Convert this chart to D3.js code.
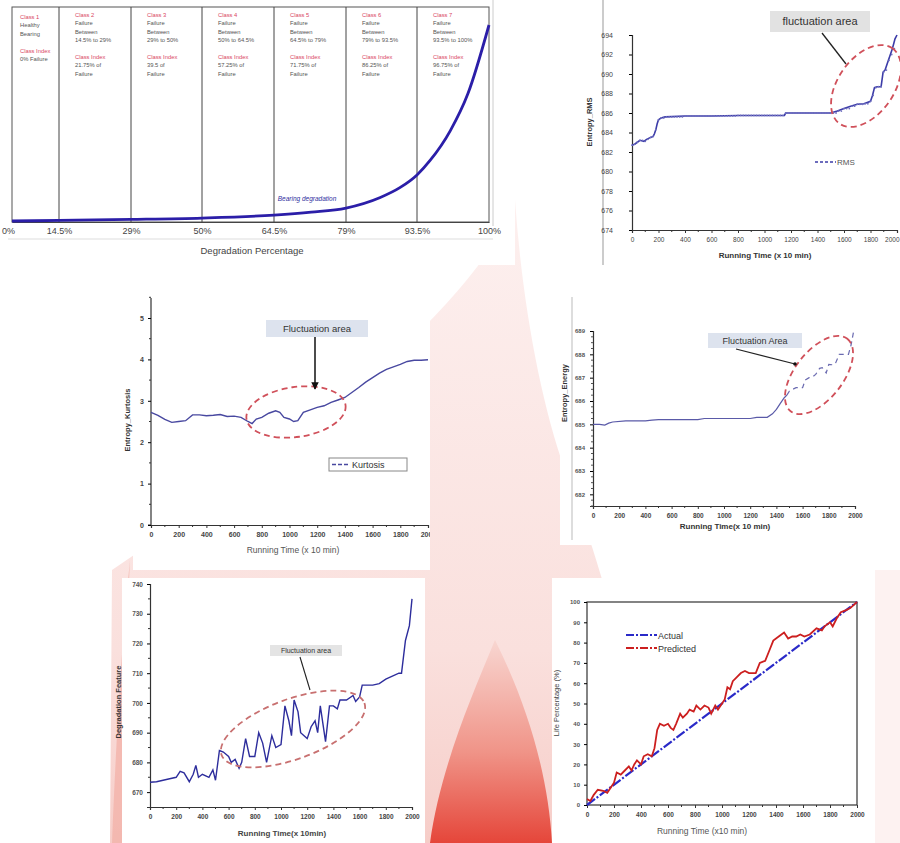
<!DOCTYPE html>
<html><head><meta charset="utf-8">
<script src="https://cdn.jsdelivr.net/npm/d3@7"></script>
<style>
html,body{margin:0;padding:0;background:#fff;}
svg{display:block;}
text{font-family:"Liberation Sans",Arial,sans-serif;}
</style></head>
<body>
<svg id="c" width="900" height="843"></svg>
<script>
// ---------- DATA ----------
// Panel A: degradation classes
const classTicks = [0, 14.5, 29, 50, 64.5, 79, 93.5, 100];
const classTickLabels = ["0%", "14.5%", "29%", "50%", "64.5%", "79%", "93.5%", "100%"];
const classNames = ["Class 1","Class 2","Class 3","Class 4","Class 5","Class 6","Class 7"];
const classDesc = [["Healthy","Bearing",""],["Failure","Between","14.5% to 29%"],["Failure","Between","29% to 50%"],["Failure","Between","50% to 64.5%"],["Failure","Between","64.5% to 79%"],["Failure","Between","79% to 93.5%"],["Failure","Between","93.5% to 100%"]];
const classIndex = [["0% Failure",""],["21.75% of","Failure"],["39.5 of","Failure"],["57.25% of","Failure"],["71.75% of","Failure"],["86.25% of","Failure"],["96.75% of","Failure"]];
const curvePct = [0, 14.5, 29, 50, 64.5, 72, 79, 86, 90, 93.5, 94.7, 96.5, 98.1, 100];
const curveVal = [0, 0.3, 0.8, 1.5, 3, 4.5, 6.6, 12, 17, 23.5, 31, 46, 65, 100];

// Panel B: Entropy RMS
const rmsX = [0,20,40,60,90,110,140,160,170,180,190,200,220,250,400,600,800,1000,1150,1160,1300,1500,1550,1600,1650,1700,1750,1800,1815,1830,1850,1880,1895,1910,1935,1950,1965,1985,2000];
const rmsY = [682.7,682.8,683.0,683.2,683.1,683.3,683.5,683.6,683.9,684.3,684.9,685.3,685.5,685.6,685.7,685.7,685.75,685.75,685.75,686.0,686.0,686.0,686.2,686.45,686.7,686.9,686.95,687.2,687.8,688.6,688.7,688.7,690.2,690.4,691.4,692.0,692.6,693.6,694.0];
const rmsTicksY = [674,676,678,680,682,684,686,688,690,692,694];

// Panel C: Entropy Kurtosis
const kurX = [0,50,100,150,200,250,300,350,400,450,500,550,600,650,700,730,760,800,850,900,930,960,1000,1030,1060,1100,1150,1200,1250,1300,1350,1400,1450,1500,1550,1600,1650,1700,1750,1800,1850,1900,1950,2000];
const kurY = [2.72,2.65,2.55,2.48,2.5,2.52,2.66,2.66,2.64,2.65,2.67,2.62,2.63,2.6,2.5,2.45,2.56,2.6,2.7,2.76,2.72,2.6,2.56,2.5,2.52,2.72,2.78,2.84,2.88,2.96,3.02,3.08,3.2,3.32,3.45,3.56,3.67,3.76,3.82,3.88,3.95,3.98,3.98,3.99];

// Panel D: Entropy Energy
const enX = [0,50,90,120,150,250,400,450,500,800,850,1200,1250,1330,1370,1400,1430,1460,1480,1500,1550,1600,1620,1650,1680,1700,1730,1750,1780,1800,1830,1850,1880,1900,1950,1970,1990];
const enY = [685.0,685.0,684.97,685.05,685.1,685.15,685.15,685.18,685.2,685.2,685.25,685.25,685.3,685.3,685.45,685.64,685.9,686.14,686.25,686.43,686.57,686.57,686.9,687.0,687.05,687.14,687.4,687.43,687.2,687.57,687.55,687.6,688.0,688.0,688.0,688.4,689.0];
const enTicksY = [682,683,684,685,686,687,688,689];

// Panel E: Degradation Feature
const dfX = [0,50,100,150,200,230,260,300,330,350,370,400,450,480,500,530,560,600,620,650,680,700,730,760,800,830,860,890,930,960,1000,1030,1060,1080,1100,1130,1150,1200,1230,1260,1280,1300,1340,1370,1400,1430,1450,1500,1550,1570,1600,1620,1700,1750,1800,1900,1920,1950,1980,2000];
const dfY = [673.3,673.5,674,674.5,675,677,676.5,673.5,676,679,675,676,675,677.5,674,684,683.5,682,680,681,678,680,688,682,682,690,686.5,680,689,685,686,699,694,689,701,697,690,688,692,694,690,699,687,699,699,698,701,701,702.5,700.5,702,706,706,706.5,708,710,710,721,726,735];
const dfTicksY = [670,680,690,700,710,720,730,740];

// Panel F: Life percentage
const lifeActualX = [0, 2000];
const lifeActualY = [0, 100];
const lifePredX = [0,25,50,80,120,150,180,200,220,250,280,310,330,350,370,400,420,450,480,500,520,540,570,600,620,640,660,690,710,740,760,790,810,840,870,900,920,950,970,1000,1020,1040,1060,1080,1110,1140,1170,1200,1250,1280,1320,1350,1380,1420,1460,1490,1520,1550,1580,1610,1650,1700,1740,1760,1800,1820,1850,1880,1920,1950,2000];
const lifePredY = [3,2,5,7.5,7,6,9,11,16,15,17,19,17,20,22,20,24,25,24,28,37,40,39,40,38,37,40,45,43,45,47,46,49,47,49,48,45,49,47,50,52,58,57,61,63,65,66,65,65,70,71,76,81,83,85,82,83,83,84,83,84,87,86,88,90,88,92,95,96,97,100];

const timeTicks = [0,200,400,600,800,1000,1200,1400,1600,1800,2000];

// ---------- DRAW ----------
const svg = d3.select("#c");
const defs = svg.append("defs");
const fmtInt = d3.format("d");

// background
svg.append("rect").attr("width",900).attr("height",843).attr("fill","#fff");
const g1 = defs.append("linearGradient").attr("id","flame").attr("x1",0).attr("y1",0).attr("x2",0).attr("y2",1);
g1.append("stop").attr("offset","0%").attr("stop-color","#fdf0ef");
g1.append("stop").attr("offset","70%").attr("stop-color","#fae0dd");
g1.append("stop").attr("offset","100%").attr("stop-color","#f6cdc8");
const g2 = defs.append("linearGradient").attr("id","flame2").attr("x1",0).attr("y1",0).attr("x2",0).attr("y2",1);
g2.append("stop").attr("offset","0%").attr("stop-color","#f8d6d1");
g2.append("stop").attr("offset","55%").attr("stop-color","#f09488");
g2.append("stop").attr("offset","100%").attr("stop-color","#e5463a");
svg.append("path").attr("fill","url(#flame)")
  .attr("d","M515,200 C480,300 320,430 112,570 L110,843 L660,843 C640,700 600,560 565,470 C540,400 522,300 515,200 Z");
svg.append("path").attr("fill","url(#flame2)")
  .attr("d","M495,640 C470,700 440,770 430,843 L552,843 C548,770 525,700 495,640 Z");
svg.append("path").attr("fill","#f3b3aa").attr("opacity",0.8)
  .attr("d","M130,560 C122,640 116,740 112,843 L122,843 C123,740 126,640 130,560 Z");
svg.append("rect").attr("x",875).attr("y",570).attr("width",25).attr("height",273).attr("fill","#fdf2f1");

function panel(x,y,w,h){ svg.append("rect").attr("x",x).attr("y",y).attr("width",w).attr("height",h).attr("fill","#fff"); }
panel(0,0,515,265);
panel(603,0,297,265);
panel(133,297,297,273);
panel(560,297,340,248);
panel(122,578,303,265);
panel(552,578,323,265);

const tickFont = (sel,size,weight,fill) => sel.selectAll("text").attr("font-size",size).attr("font-weight",weight||"normal").attr("fill",fill||"#333").attr("font-family","Liberation Sans, Arial, sans-serif");

// ===== Panel A =====
(function(){
  const x = d3.scaleLinear().domain(classTicks).range([12,59,131,202,274,346,417,489]);
  const y = d3.scaleLinear().domain([0,100]).range([221,25]);
  const A = svg.append("g");
  A.append("rect").attr("x",12).attr("y",7).attr("width",477).attr("height",215).attr("fill","none").attr("stroke","#555").attr("stroke-width",1);
  A.append("line").attr("x1",493).attr("x2",493).attr("y1",0).attr("y2",226).attr("stroke","#ccc");
  A.append("line").attr("x1",8).attr("x2",493).attr("y1",239).attr("y2",239).attr("stroke","#ddd");
  A.selectAll("line.v").data(classTicks.slice(1,7)).enter().append("line")
    .attr("x1",d=>x(d)).attr("x2",d=>x(d)).attr("y1",7).attr("y2",222).attr("stroke","#444").attr("stroke-width",1);
  const ax = d3.axisBottom(x).tickValues(classTicks).tickFormat((d,i)=>classTickLabels[i]).tickSize(0).tickPadding(6);
  const axg = A.append("g").attr("transform","translate(0,222)").call(ax);
  axg.select(".domain").attr("stroke","#444");
  tickFont(axg,9,"normal","#444");
  axg.selectAll("text").attr("font-family","Open Sans, sans-serif");
  axg.selectAll(".tick").filter(d=>d===0).select("text").attr("dx",-4);
  A.append("text").attr("x",252).attr("y",254).attr("text-anchor","middle").attr("font-size",9.5).attr("fill","#444").attr("font-family","Open Sans, sans-serif").text("Degradation Percentage");
  classNames.forEach((c,i)=>{
    const tx = x(classTicks[i]) + (i===0?8:16);
    const base = i===0?19:17;
    const t = A.append("g").attr("font-family","Liberation Serif, serif").attr("font-size",5.8);
    t.append("text").attr("x",tx).attr("y",base).attr("fill","#d9455f").text(c);
    classDesc[i].forEach((d,j)=>{ if(d) t.append("text").attr("x",tx).attr("y",base+8.3*(j+1)).attr("fill","#555").text(d); });
    const ib = i===0?53:59;
    t.append("text").attr("x",tx).attr("y",ib).attr("fill","#d9455f").text("Class Index");
    classIndex[i].forEach((d,j)=>{ if(d) t.append("text").attr("x",tx).attr("y",ib+8.3*(j+1)).attr("fill","#555").text(d); });
  });
  const line = d3.line().x((d,i)=>x(curvePct[i])).y(d=>y(d)).curve(d3.curveMonotoneX);
  A.append("path").attr("d",line(curveVal)).attr("fill","none").attr("stroke","#2b1ea8").attr("stroke-width",2.8);
  A.append("text").attr("x",307).attr("y",201).attr("text-anchor","middle").attr("font-size",6.5).attr("font-style","italic").attr("font-family","Liberation Serif, serif").attr("fill","#3030a0").text("Bearing degradation");
})();

function timeAxis(g, x, yPos, size){
  const ax = d3.axisBottom(x).tickValues(timeTicks).tickFormat(fmtInt).tickSize(3).tickPadding(4);
  const axg = g.append("g").attr("transform",`translate(0,${yPos})`).call(ax);
  axg.select(".domain").attr("stroke","#333").attr("stroke-width",1.2);
  axg.selectAll(".tick line").attr("stroke","#333");
  tickFont(axg,size||7,"bold","#444");
  g.selectAll(null).data(d3.range(100,2000,200)).enter().append("line").attr("x1",d=>x(d)).attr("x2",d=>x(d)).attr("y1",yPos).attr("y2",yPos+2).attr("stroke","#333");
  return axg;
}
function ellipse(g,cx,cy,rx,ry,rot,color){
  g.append("ellipse").attr("cx",0).attr("cy",0).attr("rx",rx).attr("ry",ry)
   .attr("transform",`translate(${cx},${cy}) rotate(${rot})`)
   .attr("fill","none").attr("stroke",color||"#d0505a").attr("stroke-width",1.8).attr("stroke-dasharray","6,4");
}
function labelBox(g,x,y,w,h,txt,size,bg){
  g.append("rect").attr("x",x).attr("y",y).attr("width",w).attr("height",h).attr("fill",bg||"#dde3ee");
  g.append("text").attr("x",x+w/2).attr("y",y+h/2+size*0.35).attr("text-anchor","middle").attr("font-size",size).attr("fill","#333").text(txt);
}
defs.append("marker").attr("id","arr").attr("viewBox","0 0 10 10").attr("refX",9).attr("refY",5).attr("markerWidth",5).attr("markerHeight",5).attr("orient","auto")
  .append("path").attr("d","M0,0 L10,5 L0,10 Z").attr("fill","#111");
defs.append("clipPath").attr("id","clipC").append("rect").attr("x",100).attr("y",290).attr("width",330).attr("height",285);
defs.append("clipPath").attr("id","clipB").append("rect").attr("x",580).attr("y",0).attr("width",320).attr("height",265);

// ===== Panel B: RMS =====
(function(){
  const g = svg.append("g").attr("clip-path","url(#clipB)");
  const x = d3.scaleLinear().domain([0,2000]).range([632,897]);
  const y = d3.scaleLinear().domain([674,694]).range([230,35]);
  g.append("line").attr("x1",603).attr("x2",603).attr("y1",0).attr("y2",265).attr("stroke","#999");
  const ay = d3.axisLeft(y).tickValues(rmsTicksY).tickFormat(fmtInt).tickSize(3).tickPadding(16);
  const ayg = g.append("g").attr("transform","translate(632,0)").call(ay);
  ayg.select(".domain").attr("stroke","#333").attr("stroke-width",1.2);
  tickFont(ayg,7,"normal","#444"); ayg.selectAll("text").attr("font-family","Liberation Serif, serif");
  const axg = timeAxis(g,x,230,6.5);
  axg.selectAll("text").attr("font-family","Liberation Serif, serif").attr("font-weight","normal");
  axg.selectAll(".tick").filter(d=>d===2000).select("text").attr("text-anchor","end").attr("dx",2);
  g.append("text").attr("x",765).attr("y",258).attr("text-anchor","middle").attr("font-size",8).attr("font-weight","bold").attr("fill","#333").text("Running Time (x 10 min)");
  svg.append("text").attr("transform","translate(592,122) rotate(-90)").attr("text-anchor","middle").attr("font-size",7.5).attr("font-weight","bold").attr("fill","#333").text("Entropy_RMS");
  const line = d3.line().x((d,i)=>x(rmsX[i])).y(d=>y(d));
  g.append("path").attr("d",line(rmsY)).attr("fill","none").attr("stroke","#3c3ca8").attr("stroke-width",1.6);
  g.selectAll("circle.m").data(d3.range(0,2000,20)).enter().append("circle")
    .attr("cx",d=>x(d)).attr("cy",d=>{const i=d3.bisectRight(rmsX,d)-1; return y(rmsY[Math.max(0,i)]);}).attr("r",0.9).attr("fill","#7070c0");
  ellipse(g,866,86,46,28,-55);
  labelBox(g,770,11,100,21,"fluctuation area",11,"#e2e2e2");
  g.append("line").attr("x1",822).attr("y1",33).attr("x2",846).attr("y2",64).attr("stroke","#222").attr("stroke-width",1.3);
  g.append("line").attr("x1",815).attr("x2",836).attr("y1",162).attr("y2",162).attr("stroke","#3c3ca8").attr("stroke-width",1.5).attr("stroke-dasharray","3,2");
  g.append("text").attr("x",837).attr("y",165).attr("font-size",8).attr("fill","#555").text("RMS");
})();

// ===== Panel C: Kurtosis =====
(function(){
  const g = svg.append("g").attr("clip-path","url(#clipC)");
  const x = d3.scaleLinear().domain([0,2000]).range([151,428]);
  const y = d3.scaleLinear().domain([0,5]).range([525,318]);
  const ay = d3.axisLeft(y).tickValues([0,1,2,3,4,5]).tickFormat(fmtInt).tickSize(3).tickPadding(4);
  const ayg = g.append("g").attr("transform","translate(151,0)").call(ay);
  ayg.select(".domain").attr("stroke","#333").attr("stroke-width",1.2).attr("d","M-3,525H0V298");
  tickFont(ayg,7,"bold","#444");
  g.selectAll(null).data([0.5,1.5,2.5,3.5,4.5,5.5]).enter().append("line").attr("x1",149).attr("x2",151).attr("y1",d=>y(d)).attr("y2",d=>y(d)).attr("stroke","#333");
  timeAxis(g,x,525,7);
  g.append("text").attr("x",293).attr("y",553).attr("text-anchor","middle").attr("font-size",8.5).attr("fill","#555").text("Running Time (x 10 min)");
  g.append("text").attr("transform","translate(130,420) rotate(-90)").attr("text-anchor","middle").attr("font-size",7.5).attr("font-weight","bold").attr("fill","#333").text("Entropy_Kurtosis");
  const line = d3.line().x((d,i)=>x(kurX[i])).y(d=>y(d));
  g.append("path").attr("d",line(kurY)).attr("fill","none").attr("stroke","#4848a0").attr("stroke-width",1.4);
  ellipse(g,296,412,50,25,-8);
  labelBox(g,266,320,102,17,"Fluctuation area",9.5);
  g.append("line").attr("x1",315).attr("y1",337).attr("x2",315).attr("y2",389).attr("stroke","#111").attr("stroke-width",1.5).attr("marker-end","url(#arr)");
  g.append("rect").attr("x",329).attr("y",458).attr("width",78).attr("height",13).attr("fill","#fff").attr("stroke","#888");
  g.append("line").attr("x1",332).attr("x2",350).attr("y1",464.5).attr("y2",464.5).attr("stroke","#4848a0").attr("stroke-width",1.5).attr("stroke-dasharray","4,2");
  g.append("text").attr("x",352).attr("y",468).attr("font-size",9).attr("fill","#333").text("Kurtosis");
})();

// ===== Panel D: Energy =====
(function(){
  const g = svg.append("g");
  const x = d3.scaleLinear().domain([0,2000]).range([593,855]);
  const y = d3.scaleLinear().domain([681.5,689]).range([506,331]);
  g.append("line").attr("x1",572).attr("x2",572).attr("y1",297).attr("y2",540).attr("stroke","#bbb");
  const ay = d3.axisLeft(y).tickValues(enTicksY).tickFormat(fmtInt).tickSize(3).tickPadding(5);
  const ayg = g.append("g").attr("transform","translate(593,0)").call(ay);
  ayg.select(".domain").attr("stroke","#333").attr("stroke-width",1.2);
  tickFont(ayg,6,"bold","#555");
  g.selectAll(null).data(d3.range(681.5,689,0.25).filter(v=>v%1!==0)).enter().append("line").attr("x1",591).attr("x2",593).attr("y1",d=>y(d)).attr("y2",d=>y(d)).attr("stroke","#555");
  timeAxis(g,x,506,6.5);
  g.append("text").attr("x",725).attr("y",529).attr("text-anchor","middle").attr("font-size",8).attr("font-weight","bold").attr("fill","#333").text("Running Time(x 10 min)");
  g.append("text").attr("transform","translate(567,393) rotate(-90)").attr("text-anchor","middle").attr("font-size",7.5).attr("font-weight","bold").attr("fill","#333").text("Entropy_Energy");
  const split = enX.indexOf(1480);
  const line = d3.line().x(d=>x(d[0])).y(d=>y(d[1]));
  const pts = enX.map((v,i)=>[v,enY[i]]);
  g.append("path").attr("d",line(pts.slice(0,split+1))).attr("fill","none").attr("stroke","#5a5aa8").attr("stroke-width",1.2);
  g.append("path").attr("d",line(pts.slice(split))).attr("fill","none").attr("stroke","#6a6ab0").attr("stroke-width",1.2).attr("stroke-dasharray","5,4");
  ellipse(g,819,375,46,24,-52);
  labelBox(g,708,333,94,15,"Fluctuation Area",9);
  g.append("line").attr("x1",736).attr("y1",349).attr("x2",795).attr("y2",364).attr("stroke","#222").attr("stroke-width",1.2);
  g.append("circle").attr("cx",795).attr("cy",364).attr("r",1.8).attr("fill","#111");
})();

// ===== Panel E: Degradation Feature =====
(function(){
  const g = svg.append("g");
  const x = d3.scaleLinear().domain([0,2000]).range([150,412]);
  const y = d3.scaleLinear().domain([665,740]).range([807,584]);
  const ay = d3.axisLeft(y).tickValues(dfTicksY).tickFormat(fmtInt).tickSize(3).tickPadding(4);
  const ayg = g.append("g").attr("transform","translate(150,0)").call(ay);
  ayg.select(".domain").attr("stroke","#333").attr("stroke-width",1.2);
  tickFont(ayg,6.5,"bold","#555");
  g.selectAll(null).data(d3.range(675,740,10)).enter().append("line").attr("x1",148).attr("x2",150).attr("y1",d=>y(d)).attr("y2",d=>y(d)).attr("stroke","#333");
  timeAxis(g,x,807,6.5);
  g.append("text").attr("x",282).attr("y",836).attr("text-anchor","middle").attr("font-size",8).attr("font-weight","bold").attr("fill","#444").text("Running Time(x 10min)");
  g.append("text").attr("transform","translate(121,702) rotate(-90)").attr("text-anchor","middle").attr("font-size",7.5).attr("font-weight","bold").attr("fill","#333").text("Degradation Feature");
  const line = d3.line().x((d,i)=>x(dfX[i])).y(d=>y(d));
  g.append("path").attr("d",line(dfY)).attr("fill","none").attr("stroke","#2d2d9c").attr("stroke-width",1.4);
  ellipse(g,293,729,76,30,-20,"#c87070");
  labelBox(g,270,645,72,11,"Fluctuation area",7,"#e4e4e4");
  g.append("line").attr("x1",300).attr("y1",657).attr("x2",310).attr("y2",690).attr("stroke","#222").attr("stroke-width",1.1);
})();

// ===== Panel F: Life Percentage =====
(function(){
  const g = svg.append("g");
  const x = d3.scaleLinear().domain([0,2000]).range([587,857]);
  const y = d3.scaleLinear().domain([0,100]).range([805,602]);
  g.append("rect").attr("x",587).attr("y",602).attr("width",270).attr("height",203).attr("fill","none").attr("stroke","#333").attr("stroke-width",1.2);
  const ay = d3.axisLeft(y).tickValues(d3.range(0,101,10)).tickFormat(fmtInt).tickSize(3).tickPadding(4);
  const ayg = g.append("g").attr("transform","translate(587,0)").call(ay);
  ayg.select(".domain").remove();
  tickFont(ayg,6,"bold","#555");
  timeAxis(g,x,805,6.5).select(".domain").remove();
  g.append("text").attr("x",702).attr("y",834).attr("text-anchor","middle").attr("font-size",8.5).attr("fill","#555").text("Running Time (x10 min)");
  g.append("text").attr("transform","translate(559,703) rotate(-90)").attr("text-anchor","middle").attr("font-size",7.5).attr("fill","#444").text("Life Percentage (%)");
  const lineA = d3.line().x((d,i)=>x(lifeActualX[i])).y(d=>y(d));
  g.append("path").attr("d",lineA(lifeActualY)).attr("fill","none").attr("stroke","#2a2ac8").attr("stroke-width",2.2).attr("stroke-dasharray","10,2,2,2");
  const lineP = d3.line().x((d,i)=>x(lifePredX[i])).y(d=>y(d));
  g.append("path").attr("d",lineP(lifePredY)).attr("fill","none").attr("stroke","#cc1f1f").attr("stroke-width",1.8);
  g.append("line").attr("x1",626).attr("x2",657).attr("y1",635).attr("y2",635).attr("stroke","#2a2ac8").attr("stroke-width",2.2).attr("stroke-dasharray","8,2,2,2");
  g.append("text").attr("x",658).attr("y",638.5).attr("font-size",9).attr("fill","#333").text("Actual");
  g.append("line").attr("x1",626).attr("x2",657).attr("y1",648).attr("y2",648).attr("stroke","#cc1f1f").attr("stroke-width",2.2).attr("stroke-dasharray","8,2,2,2");
  g.append("text").attr("x",658).attr("y",651.5).attr("font-size",9).attr("fill","#333").text("Predicted");
})();
</script>
</body></html>
